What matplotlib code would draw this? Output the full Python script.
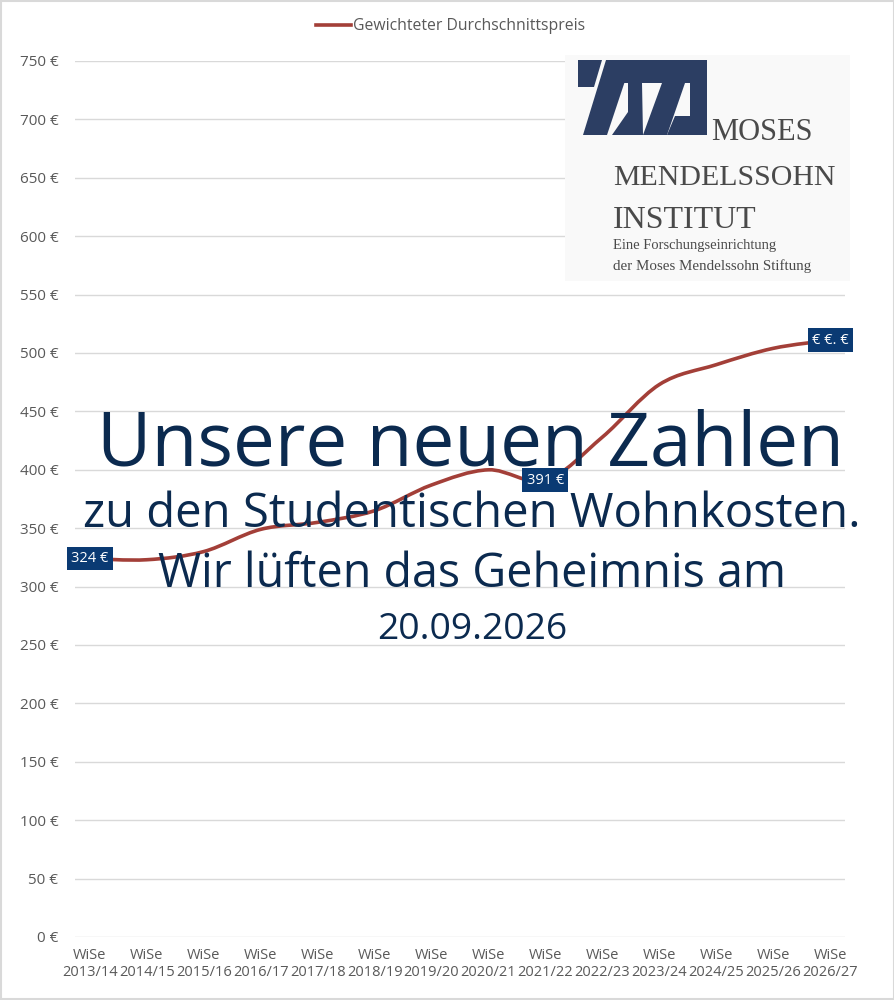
import matplotlib
matplotlib.use("Agg")
import matplotlib.pyplot as plt
from matplotlib.path import Path
from matplotlib.patches import PathPatch, Rectangle, Polygon
from matplotlib.lines import Line2D
import numpy as np

plt.rcParams['font.family'] = ['Open Sans', 'DejaVu Sans']

semesters = ["2013/14", "2014/15", "2015/16", "2016/17", "2017/18", "2018/19", "2019/20",
             "2020/21", "2021/22", "2022/23", "2023/24", "2024/25", "2025/26", "2026/27"]
tick_labels = ["WiSe\n" + s for s in semesters]
prices = [324, 323, 330, 349, 355, 365, 387, 400, 391, 428, 473, 490, 504, 511]
label_idx = [0, 8, 13]
label_texts = ["324 €", "391 €", "€ €. €"]
yticks = list(range(0, 751, 50))
series_name = "Gewichteter Durchschnittspreis"

LINE = "#a33f38"
NAVY_BOX = "#0a3a73"
NAVY_TXT = "#0b2a4f"
GRAY = "#595959"
GRID = "#d9d9d9"

fig = plt.figure(figsize=(8.95, 10), dpi=100)
W, H = 895, 1000
def fx(px): return px / W
def fy(py): return 1 - py / H

ax = fig.add_axes([fx(75), fy(937), fx(845) - fx(75), (937 - 61) / H])
ax.set_xlim(-0.26, 13.26)
ax.set_ylim(0, 750)
ax.set_yticks(yticks)
ax.set_yticklabels([f"{v} €" for v in yticks])
ax.set_xticks(range(len(semesters)))
ax.set_xticklabels(tick_labels, linespacing=1.15)
ax.tick_params(axis='both', length=0, colors=GRAY)
ax.tick_params(axis='y', pad=12, labelsize=11)
ax.tick_params(axis='x', pad=8, labelsize=10.5)
for s in ax.spines.values():
    s.set_visible(False)
ax.grid(axis='y', color=GRID, linewidth=1)
ax.set_axisbelow(True)

# smooth line (Catmull-Rom -> cubic Bezier) through the data points
xs = np.arange(len(prices), dtype=float)
ys = np.array(prices, dtype=float)
verts = [(xs[0], ys[0])]
codes = [Path.MOVETO]
n = len(xs)
for i in range(n - 1):
    p0 = (xs[max(i - 1, 0)], ys[max(i - 1, 0)])
    p1 = (xs[i], ys[i])
    p2 = (xs[i + 1], ys[i + 1])
    p3 = (xs[min(i + 2, n - 1)], ys[min(i + 2, n - 1)])
    t = 1 / 6
    c1 = (p1[0] + (p2[0] - p0[0]) * t, p1[1] + (p2[1] - p0[1]) * t)
    c2 = (p2[0] - (p3[0] - p1[0]) * t, p2[1] - (p3[1] - p1[1]) * t)
    verts += [c1, c2, p2]
    codes += [Path.CURVE4] * 3
ax.add_patch(PathPatch(Path(verts, codes), facecolor='none', edgecolor=LINE, lw=2.6,
                       capstyle='round', zorder=3))

for i, t in zip(label_idx, label_texts):
    ax.text(xs[i], ys[i], t, ha='center', va='center', color='white', fontsize=10.5,
            zorder=6, bbox=dict(boxstyle='square,pad=0.3', fc=NAVY_BOX, ec='none'))

# legend
leg = ax.legend([Line2D([0], [0], color=LINE, lw=2.6)], [series_name],
                loc='center', bbox_to_anchor=(fx(451), fy(26)), bbox_transform=fig.transFigure,
                frameon=False, fontsize=11.3, handlelength=2.2, handletextpad=0.15)
for t in leg.get_texts():
    t.set_color(GRAY)

# logo
fig.patches.append(Rectangle((fx(565), fy(281)), fx(850) - fx(565), (281 - 55) / H,
                             transform=fig.transFigure, fc='#f9f9f9', ec='none', zorder=2))
LOGO = "#2c3e63"
shapes = [
    [(578, 60), (602, 60), (594, 87), (578, 87)],
    [(606, 60), (632, 60), (607, 135), (583, 135)],
    [(606, 60), (707, 60), (707, 83), (606, 83)],
    [(628, 83), (642, 83), (643, 135), (612, 135), (628, 112)],
    [(662, 83), (685, 83), (667, 135), (643, 135)],
    [(675, 116), (690, 116), (690, 135), (667, 135)],
    [(690, 60), (707, 60), (707, 135), (690, 135)],
]
for sh in shapes:
    fig.patches.append(Polygon([(fx(a), fy(b)) for a, b in sh], closed=True,
                               transform=fig.transFigure, fc=LOGO, ec='none', zorder=3))
LT = "#4a4a4a"
serif = dict(family='Liberation Serif', color=LT, zorder=4)
fig.text(fx(711), fy(140), "MOSES", fontsize=22, ha='left', va='baseline', **serif)
fig.text(fx(613), fy(185), "MENDELSSOHN", fontsize=21.5, ha='left', va='baseline', **serif)
fig.text(fx(613), fy(228), "INSTITUT", fontsize=23, ha='left', va='baseline', **serif)
fig.text(fx(613), fy(249), "Eine Forschungseinrichtung", fontsize=10.5, ha='left', va='baseline', **serif)
fig.text(fx(613), fy(270), "der Moses Mendelssohn Stiftung", fontsize=10.8, ha='left', va='baseline', **serif)

# overlay announcement
fig.text(fx(471), fy(465), "Unsere neuen Zahlen", fontsize=53.7, color=NAVY_TXT, ha='center', va='baseline', zorder=5)
fig.text(fx(472), fy(527), "zu den Studentischen Wohnkosten.", fontsize=34, color=NAVY_TXT, ha='center', va='baseline', zorder=5)
fig.text(fx(472), fy(587), "Wir lüften das Geheimnis am", fontsize=33.6, color=NAVY_TXT, ha='center', va='baseline', zorder=5)
fig.text(fx(472), fy(639), "20.09.2026", fontsize=26.8, color=NAVY_TXT, ha='center', va='baseline', zorder=5)

fig.patches.append(Rectangle((0.001, 0.001), 0.998, 0.998, transform=fig.transFigure,
                             fc='none', ec='#d9d9d9', lw=1.5, zorder=10))

fig.savefig("out.png", dpi=100, facecolor='white')
